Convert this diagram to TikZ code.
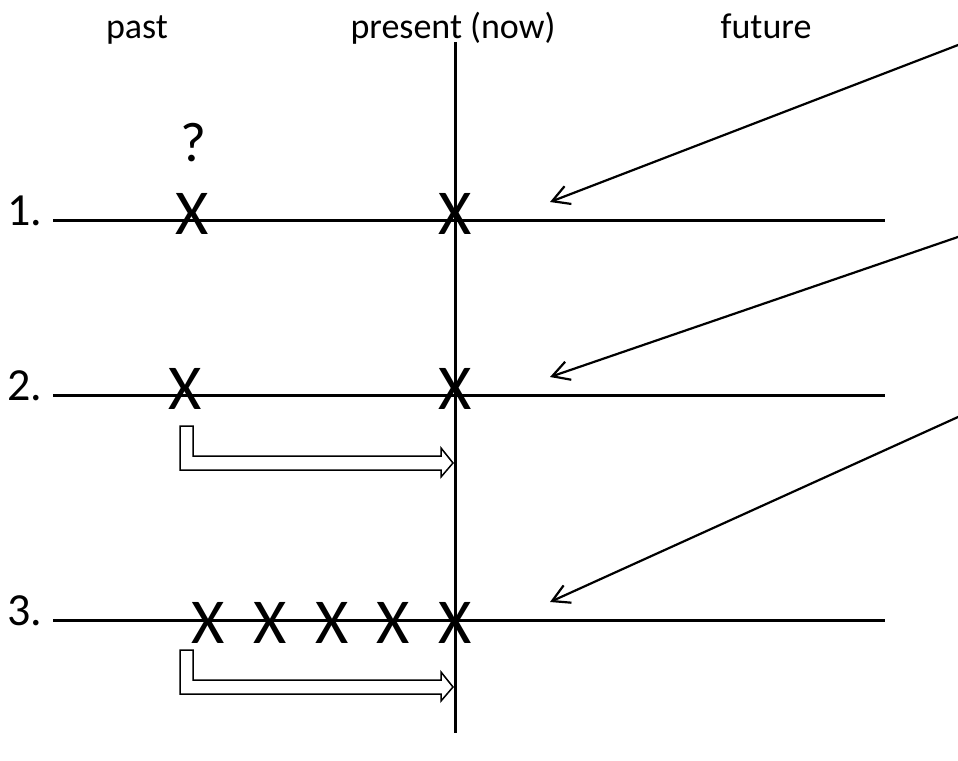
\documentclass[tikz,border=0pt]{standalone}
\usepackage{fontspec}
\setmainfont{Carlito}
\usetikzlibrary{arrows.meta}
\begin{document}
\begin{tikzpicture}[x=1pt,y=-1pt,
  lbl/.style={font=\fontsize{36}{40}\selectfont, inner sep=0, anchor=base},
  num/.style={font=\fontsize{46}{50}\selectfont, inner sep=0, anchor=west},
  xmark/.style={font=\fontsize{64}{68}\selectfont, inner sep=0},
  qmark/.style={font=\fontsize{56}{60}\selectfont, inner sep=0},
  tline/.style={line width=3pt},
  ptr/.style={line width=2.2pt, -{Straight Barb[length=17pt,width=19pt]}},
  block/.style={line width=1.5pt, line join=miter}]
\clip (0,0) rectangle (958,760);
% headings
\node[lbl] (past) at (137,38) {past};
\node[lbl] (present) at (453,38) {present (now)};
\node[lbl] (future) at (766,38) {future};
% now line
\coordinate (nowtop) at (455,42);
\coordinate (nowbot) at (455,733);
\draw[tline] (nowtop) -- (nowbot);
% timelines
\coordinate (l1s) at (53,220); \coordinate (l1e) at (885,220);
\coordinate (l2s) at (53,395); \coordinate (l2e) at (885,395);
\coordinate (l3s) at (53,620); \coordinate (l3e) at (885,620);
\draw[tline] (l1s) -- (l1e);
\draw[tline] (l2s) -- (l2e);
\draw[tline] (l3s) -- (l3e);
\node[num] (n1) at (7,211) {1.};
\node[num] (n2) at (7,386) {2.};
\node[num] (n3) at (7,611) {3.};
% marks
\node[qmark] (q) at (193,143) {?};
\node[xmark] (x1a) at (192,214) {X};
\node[xmark] (x1b) at (455,214) {X};
\node[xmark] (x2a) at (185,389) {X};
\node[xmark] (x2b) at (455,389) {X};
\node[xmark] (x3a) at (208,623) {X};
\node[xmark] (x3b) at (270,623) {X};
\node[xmark] (x3c) at (332,623) {X};
\node[xmark] (x3d) at (393,623) {X};
\node[xmark] (x3e) at (455,623) {X};
% block arrows
\draw[block] (180,426) -- (193,426) -- (193,456) -- (441,456) -- (441,448) -- (453,463)
  -- (441,477) -- (441,470) -- (180,470) -- cycle;
\draw[block] (180,650) -- (193,650) -- (193,680) -- (441,680) -- (441,672) -- (453,687)
  -- (441,701) -- (441,694) -- (180,694) -- cycle;
% pointers from the right
\coordinate (p1s) at (962,43.5); \coordinate (p1e) at (550,202);
\coordinate (p2s) at (962,235.6); \coordinate (p2e) at (550,377);
\coordinate (p3s) at (962,415.2); \coordinate (p3e) at (550,602);
\draw[ptr] (p1s) -- (p1e);
\draw[ptr] (p2s) -- (p2e);
\draw[ptr] (p3s) -- (p3e);
\end{tikzpicture}
\end{document}
